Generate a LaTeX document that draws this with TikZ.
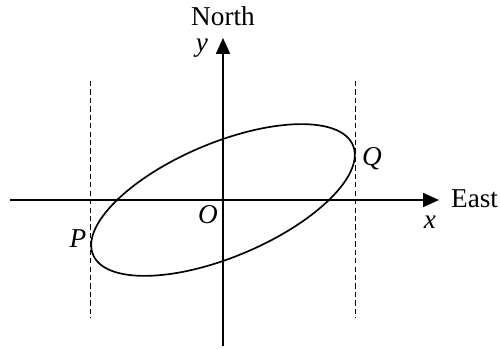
\documentclass[tikz,border=0pt]{standalone}
\usepackage{fontspec}
\setmainfont{Liberation Serif}
\usetikzlibrary{positioning,calc,arrows.meta}

\tikzset{
  axis/.style={line width=0.7pt,-{Triangle[length=9pt,width=8pt]}},
  guide/.style={line width=0.7pt,dash pattern=on 3pt off 1.8pt},
  lbl/.style={font=\fontsize{15.5}{18}\selectfont,inner sep=1pt},
  ilbl/.style={lbl,font=\fontsize{15.5}{18}\selectfont\itshape}
}

\begin{document}
\begin{tikzpicture}[scale=1]
		\useasboundingbox (-4.46,-2.96) rectangle (5.54,4.0);
		\coordinate (O) at (0,0);
		\coordinate (xs) at (-4.26,0);
		\coordinate (xe) at (4.32,0);
		\coordinate (ys) at (0,-2.92);
		\coordinate (ye) at (0,3.24);
		\coordinate (P) at (-2.65,-0.8);
		\coordinate (Q) at (2.65,0.85);
		% axes
		\draw[axis] (xs) -- (xe);
		\draw[axis] (ys) -- (ye);
		% dashed verticals through P and Q
		\draw[guide] ($(P)+(0,3.18)$) -- ($(P)+(0,-1.56)$);
		\draw[guide] ($(Q)+(0,1.53)$) -- ($(Q)+(0,-3.21)$);
		% ellipse
		\draw[line width=0.95pt,rotate=22.85] (O) ellipse (2.82 and 1.14);
		% labels
		\node[lbl] (north) at (0,3.68) {North};
		\node[ilbl] (ylab) at (-0.42,3.04) {y};
		\node[lbl,anchor=west] (east) at (4.52,0.02) {East};
		\node[ilbl] (xlab) at (4.14,-0.44) {x};
		\node[ilbl] (olab) at (-0.3,-0.3) {O};
		\node[ilbl] (plab) at (-2.9,-0.78) {P};
		\node[ilbl] (qlab) at (2.98,0.82) {Q};
	\end{tikzpicture}
\end{document}
